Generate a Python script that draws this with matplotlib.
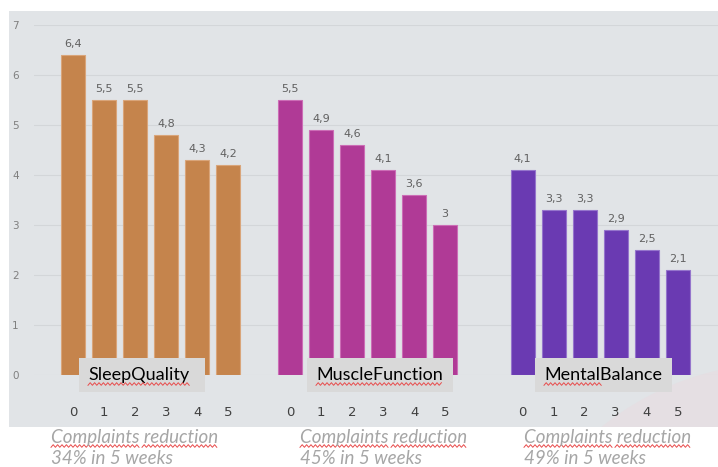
"""
Complaint scores per week for three supplement programmes.
Grouped bar panels with weekly values and a short reduction note under each group.
"""

import matplotlib.pyplot as plt
import numpy as np
from matplotlib.patches import Rectangle, Ellipse

# Weekly complaint scores (week 0 .. week 5)
weeks = ['0', '1', '2', '3', '4', '5']
sleep_quality = [6.4, 5.5, 5.5, 4.8, 4.3, 4.2]
muscle_function = [5.5, 4.9, 4.6, 4.1, 3.6, 3.0]
mental_balance = [4.1, 3.3, 3.3, 2.9, 2.5, 2.1]

groups = ['SleepQuality', 'MuscleFunction', 'MentalBalance']
reductions = [34, 45, 49]
colors = ['#C5844C', '#B03A96', '#6A3AB2']
edges = ['#D9A57A', '#CC6DB6', '#9575CC']

W, H = 718, 467


def fx(px):
    return px / W


def fy(py):
    return 1 - py / H


def squiggle(fig, x0, x1, y, amp=1.3, step=2.2):
    """Red wavy underline, given in pixel coords from the top-left."""
    xs = np.arange(x0, x1 + step, step)
    ys = y + amp * (-1) ** np.arange(len(xs))
    fig.add_artist(plt.Line2D(fx(xs), fy(ys), color='#E84C4C', lw=0.7,
                              transform=fig.transFigure))


def plot_complaints(output_path):
    fig = plt.figure(figsize=(W / 100, H / 100), dpi=100)
    fig.patch.set_facecolor('white')

    # grey slide panel with a faint pink arc in the lower right
    panel = Rectangle((fx(9), fy(427)), fx(718) - fx(9), fy(11) - fy(427),
                      transform=fig.transFigure, facecolor='#E1E4E7',
                      edgecolor='none', zorder=-2)
    fig.add_artist(panel)
    r = 287
    arc = Ellipse((fx(782), fy(650)), 2 * r / W, 2 * r / H,
                  transform=fig.transFigure, facecolor='#E5DFE3',
                  edgecolor='none', zorder=-1)
    fig.add_artist(arc)
    arc.set_clip_path(panel)

    ax = fig.add_axes([fx(34), fy(375), fx(718) - fx(34), fy(25) - fy(375)])
    ax.set_facecolor('none')

    series = [sleep_quality, muscle_function, mental_balance]
    offsets = [0.0, 7.0, 14.5]
    width = 0.77
    x_ticks, x_labels = [], []
    for vals, off, col, ec in zip(series, offsets, colors, edges):
        x = off + np.arange(len(vals))
        ax.bar(x, vals, width=width, color=col, edgecolor=ec, lw=0.8, zorder=3)
        for xi, v in zip(x, vals):
            lbl = f'{v:g}'.replace('.', ',')
            ax.text(xi, v + 0.12, lbl, ha='center', va='bottom',
                    fontsize=8, color='#606060', zorder=4)
        x_ticks.extend(x)
        x_labels.extend(weeks)

    ax.set_xlim(-1.26, 20.8)
    ax.set_ylim(0, 7)
    ax.set_yticks(range(0, 8))
    ax.set_yticklabels([str(i) for i in range(0, 8)], fontsize=7.5, color='#7F7F7F')
    ax.set_xticks(x_ticks)
    ax.set_xticklabels(x_labels, fontsize=9.5, color='#404040')
    ax.tick_params(axis='x', length=0, pad=22)
    ax.tick_params(axis='y', length=0, pad=11)
    ax.grid(axis='y', color='#D3D6D9', lw=0.8, zorder=1)
    for s in ax.spines.values():
        s.set_visible(False)

    # name boxes sitting on the zero line
    box_spans = [(0.19, 4.26), (7.55, 12.26), (14.9, 19.32)]
    text_left = [0.48, 7.84, 15.19]
    for name, (b0, b1), tl in zip(groups, box_spans, text_left):
        ax.add_patch(Rectangle((b0, -0.34), b1 - b0, 0.68, facecolor='#D9D9D9',
                               edgecolor='none', zorder=5, clip_on=False))
        ax.text(tl, 0.0, name, ha='left', va='center', fontsize=13,
                family='Lato', color='black', zorder=6, clip_on=False)

    # spell-check underlines
    squiggle(fig, 88, 188, 384)
    squiggle(fig, 316, 440, 384)
    squiggle(fig, 544, 599, 384)

    # reduction notes below the panel
    note_x = [51, 300, 524]
    for nx, pct in zip(note_x, reductions):
        fig.text(fx(nx), fy(437), 'Complaints reduction', ha='left', va='center',
                 fontsize=13.5, style='italic', family='Lato', color='#A6A6A6')
        fig.text(fx(nx), fy(459), f'{pct}% in 5 weeks', ha='left', va='center',
                 fontsize=13.5, style='italic', family='Lato', color='#A6A6A6')
        squiggle(fig, nx, nx + 86, 446)
        squiggle(fig, nx + 91, nx + 165, 446)

    fig.savefig(output_path, dpi=100)


if __name__ == "__main__":
    plot_complaints('out.png')
